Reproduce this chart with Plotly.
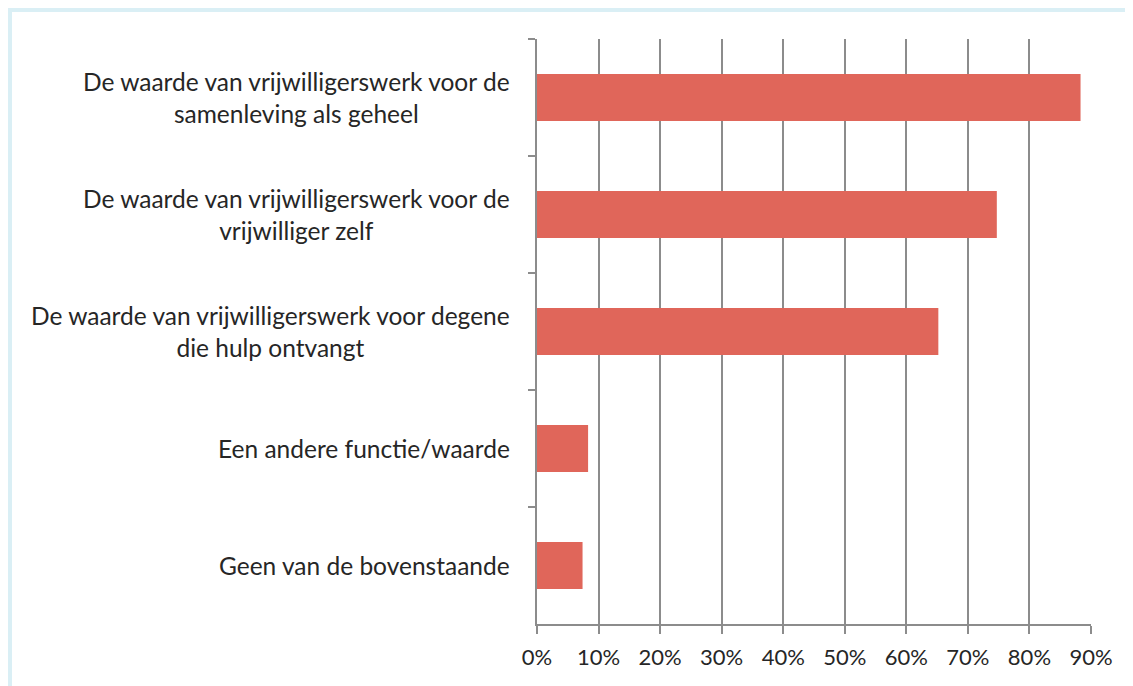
import plotly.graph_objects as go

categories = [
    "De waarde van vrijwilligerswerk voor de<br>samenleving als geheel",
    "De waarde van vrijwilligerswerk voor de<br>vrijwilliger zelf",
    "De waarde van vrijwilligerswerk voor degene<br>die hulp ontvangt",
    "Een andere functie/waarde",
    "Geen van de bovenstaande",
]
values = [0.883, 0.747, 0.652, 0.083, 0.074]
tick_values = [i / 10 for i in range(10)]
tick_labels = [f"{i * 10}%" for i in range(10)]

# the page puts the figure 8px in from the corner, so margins are shifted by that
W, H = 1133, 686
L, R, T, B = 529, 50, 31, 70
FONT = "Lato"
TEXT = "#262626"
GRID = "#8c8c8c"

pw = W - L - R
ph = H - T - B

fig = go.Figure()
fig.add_trace(
    go.Bar(
        x=values,
        y=categories,
        orientation="h",
        marker=dict(color="#e0665a", line=dict(width=0)),
        hoverinfo="x+y",
    )
)

# category labels: right-aligned block, lines centred inside it
for cat in categories:
    fig.add_annotation(
        x=-25 / pw,
        y=cat,
        xref="paper",
        yref="y",
        text=cat,
        showarrow=False,
        xanchor="right",
        align="center",
        font=dict(family=FONT, size=24.5, color=TEXT),
    )

# light blue frame (only top and left edges fall inside the picture)
fig.add_shape(
    type="rect",
    xref="paper",
    yref="paper",
    x0=(2 - L) / pw,
    x1=(W + 20 - L) / pw,
    y0=-(B + 20) / ph,
    y1=(H - B - 2) / ph,
    line=dict(color="#daeff5", width=4),
    layer="below",
)

fig.update_layout(
    width=W,
    height=H,
    margin=dict(l=L, r=R, t=T, b=B),
    paper_bgcolor="white",
    plot_bgcolor="white",
    bargap=0.6,
    showlegend=False,
    font=dict(family=FONT, size=22, color=TEXT),
    xaxis=dict(
        range=[0, 0.9],
        tickvals=tick_values + [0.9],
        ticktext=tick_labels + ["90%"],
        showgrid=True,
        gridcolor=GRID,
        gridwidth=2,
        zeroline=False,
        showline=True,
        linecolor=GRID,
        linewidth=2,
        ticks="outside",
        ticklen=8,
        tickwidth=2,
        tickcolor=GRID,
        ticklabelstandoff=5,
        tickfont=dict(family=FONT, size=22, color=TEXT),
        fixedrange=True,
    ),
    yaxis=dict(
        autorange="reversed",
        showticklabels=False,
        showgrid=False,
        showline=True,
        linecolor=GRID,
        linewidth=2,
        ticks="outside",
        ticklen=7,
        tickwidth=2,
        tickcolor=GRID,
        tickson="boundaries",
        fixedrange=True,
    ),
)

fig.write_html("out.html")
